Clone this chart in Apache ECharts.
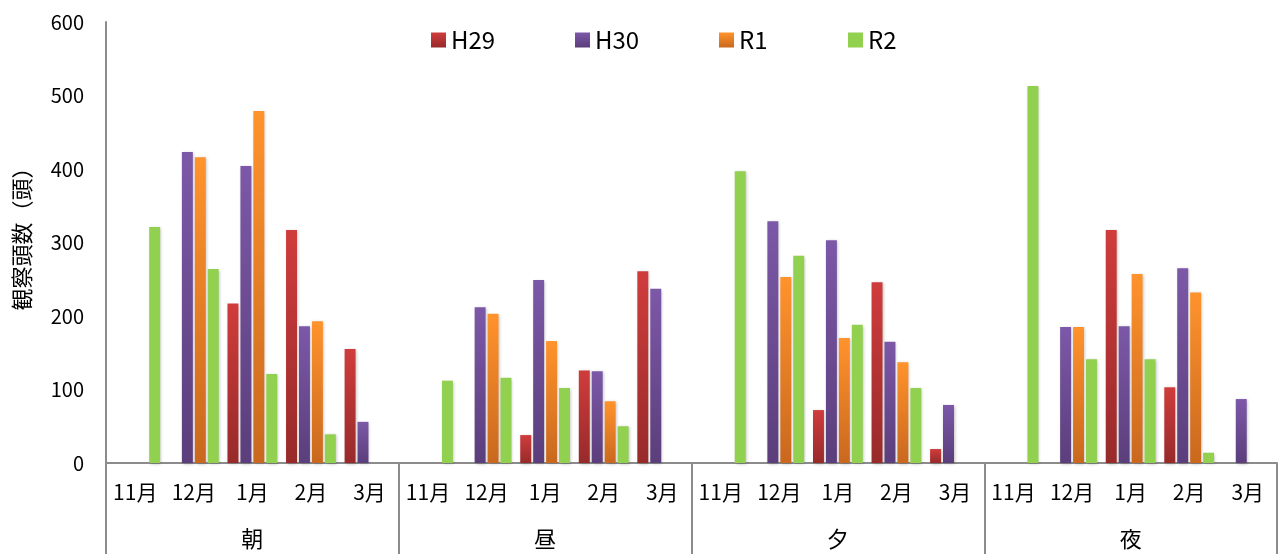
<!DOCTYPE html>
<html><head><meta charset="utf-8">
<script src="https://cdn.jsdelivr.net/npm/echarts@6/dist/echarts.min.js"></script>
<style>html,body{margin:0;padding:0;background:#fff}#c{width:1280px;height:554px}</style>
</head><body><div id="c"></div>
<script>
const groups = ['朝', '昼', '夕', '夜'];
const months = ['11月', '12月', '1月', '2月', '3月'];
const seriesNames = ['H29', 'H30', 'R1', 'R2'];
// values per group (朝, 昼, 夕, 夜) x months (11月..3月); null = no bar
const H29 = [null, null, 217, 317, 155,   null, null, 38, 126, 261,   null, null, 72, 246, 19,   null, null, 317, 103, null];
const H30 = [null, 423, 404, 186, 56,     null, 212, 249, 125, 237,   null, 329, 303, 165, 79,   null, 185, 186, 265, 87];
const R1  = [null, 416, 479, 193, null,   null, 203, 166, 84, null,   null, 253, 170, 137, null, null, 185, 257, 232, null];
const R2  = [321, 264, 121, 39, null,     112, 116, 102, 50, null,    397, 282, 188, 102, null,  513, 141, 141, 14, null];
const yTicks = [0, 100, 200, 300, 400, 500, 600];

const cats = [];
groups.forEach(g => months.forEach(m => cats.push(g + '-' + m)));
const values = [H29, H30, R1, R2];
const grads = [
  ['#D03C3C', '#982A2A'],
  ['#7C58A8', '#5B3E7B'],
  ['#FF932C', '#C9681E'],
  ['#92D050', '#92D050']
];
const font = '"Noto Sans CJK JP", "Noto Sans", sans-serif';
const chart = echarts.init(document.getElementById('c'));
const legendLeft = [431, 575, 719, 848];
chart.setOption({
  animation: false,
  grid: { left: 106, right: 3, top: 22, bottom: 91 },
  legend: seriesNames.map((n, i) => ({
    data: [n], left: legendLeft[i], top: 28, padding: 0, icon: 'rect', itemWidth: 15, itemHeight: 15, itemGap: 6,
    textStyle: { fontSize: 24, color: '#000', fontFamily: font }
  })),
  xAxis: [
    {
      type: 'category', data: cats,
      axisLine: { show: true, lineStyle: { color: '#8c8c8c', width: 2 } },
      axisTick: { show: false },
      axisLabel: { interval: 0, margin: 19, fontSize: 21, color: '#000', fontFamily: font,
        formatter: v => v.split('-')[1] }
    },
    {
      type: 'category', data: groups, position: 'bottom',
      axisLine: { show: false },
      axisTick: { show: true, length: 91, lineStyle: { color: '#8c8c8c', width: 2 } },
      axisLabel: { interval: 0, margin: 65, fontSize: 22, color: '#000', fontFamily: font }
    }
  ],
  yAxis: {
    type: 'value', min: 0, max: 600, interval: 100,
    name: '観察頭数（頭）', nameLocation: 'middle', nameGap: 73, nameRotate: 90,
    nameTextStyle: { fontSize: 22, color: '#000', fontFamily: font, padding: [0, 0, 0, 18] },
    axisLine: { show: true, lineStyle: { color: '#8c8c8c', width: 2 } },
    axisTick: { show: false },
    splitLine: { show: false },
    axisLabel: { margin: 22, fontSize: 20, color: '#000', fontFamily: font,
      formatter: v => yTicks.includes(v) ? String(v) : '' }
  },
  series: seriesNames.map((n, i) => ({
    name: n, type: 'bar', xAxisIndex: 0, data: values[i],
    barCategoryGap: '15%', barGap: '18%',
    itemStyle: {
      color: new echarts.graphic.LinearGradient(0, 0, 0, 1, [
        { offset: 0, color: grads[i][0] }, { offset: 1, color: grads[i][1] }
      ]),
      shadowBlur: 3, shadowColor: 'rgba(0,0,0,0.25)', shadowOffsetX: 1, shadowOffsetY: 1
    }
  }))
});
</script></body></html>
